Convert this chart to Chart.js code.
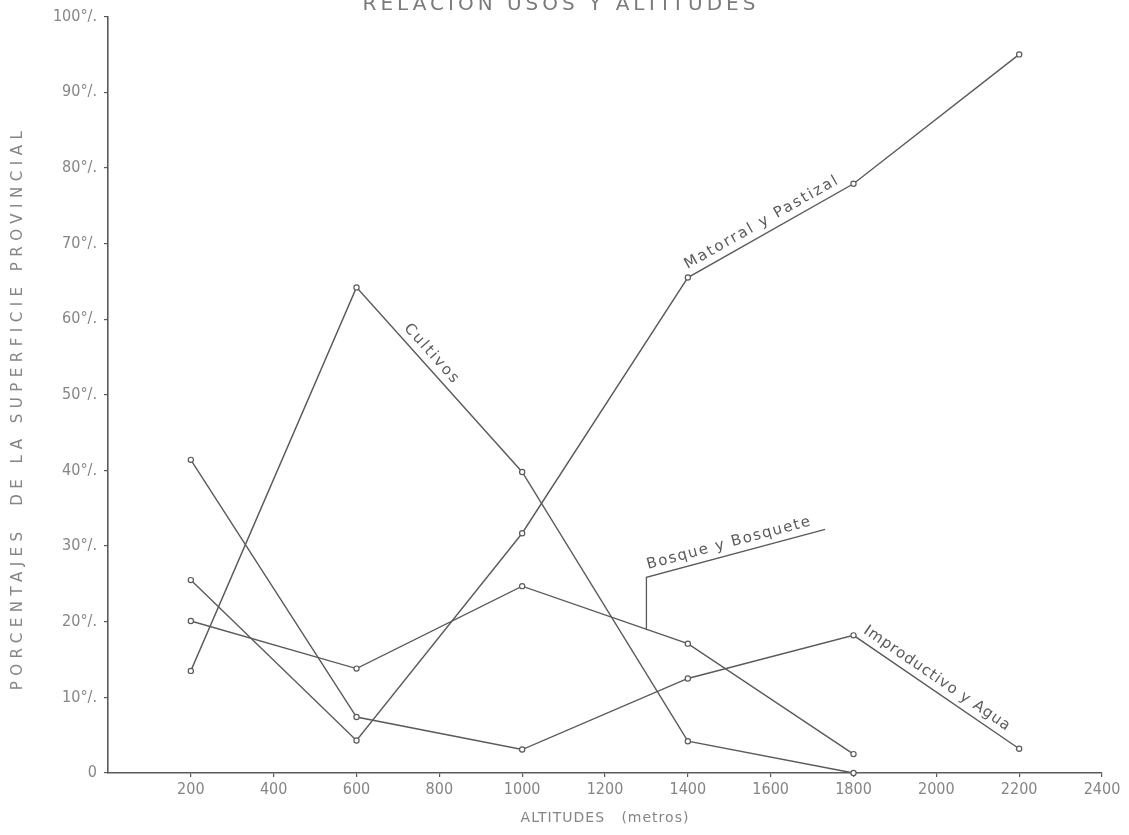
<!DOCTYPE html>
<html lang="es">
<head>
<meta charset="utf-8">
<title>Relación usos y altitudes</title>
<script src="https://cdn.jsdelivr.net/npm/chart.js@4.4.0/dist/chart.umd.min.js"></script>
<style>
  html, body { margin: 0; padding: 0; background: #fff; }
  #wrap { width: 1129px; height: 835px; position: relative; }
</style>
</head>
<body>
<div id="wrap"><canvas id="chart"></canvas></div>
<script>
// altitudes (metros) at which the land use was measured
const altitudes = [200, 600, 1000, 1400, 1800, 2200];

// % of the provincial surface
const cultivos     = [13.5, 64.2, 39.8, 4.2, 0, null];
const matorral     = [25.5, 4.3, 31.7, 65.5, 77.9, 95.0];
const bosque       = [20.1, 13.8, 24.7, 17.1, 2.5, null];
const improductivo = [41.4, 7.4, 3.1, 12.5, 18.2, 3.2];

const seriesNames = ['Cultivos', 'Matorral y Pastizal', 'Bosque y Bosquete', 'Improductivo y Agua'];

const xTickLabels = [200, 400, 600, 800, 1000, 1200, 1400, 1600, 1800, 2000, 2200, 2400];
const yTickLabels = [0, 10, 20, 30, 40, 50, 60, 70, 80, 90, 100];

const titleText = 'RELACIÓN USOS Y ALTITUDES';
const xTitle = 'ALTITUDES   (metros)';
const yTitle = 'PORCENTAJES  DE LA SUPERFICIE PROVINCIAL';

const INK = '#5a5a5a';
const PALE = '#858585';
const FONT = '"DejaVu Sans", sans-serif';
const NARROW = '"DejaVu Sans Condensed", "Liberation Sans Narrow", "DejaVu Sans", sans-serif';

const toPoints = (vals) => altitudes.map((a, i) => ({ x: a, y: vals[i] }));

const dataset = (label, vals) => ({
  label,
  data: toPoints(vals),
  borderColor: INK,
  borderWidth: 1.4,
  pointRadius: 2.6,
  pointBackgroundColor: '#fff',
  pointBorderColor: INK,
  pointBorderWidth: 1.2,
  tension: 0,
  clip: false
});

// text written along a segment of a series, the way the draughtsman labelled it
function textAlong(ctx, text, p0, p1, t, offset, spacing) {
  const ang = Math.atan2(p1.y - p0.y, p1.x - p0.x);
  const x = p0.x + (p1.x - p0.x) * t;
  const y = p0.y + (p1.y - p0.y) * t;
  ctx.save();
  ctx.translate(x, y);
  ctx.rotate(ang);
  ctx.letterSpacing = spacing;
  ctx.textAlign = 'left';
  ctx.textBaseline = 'bottom';
  ctx.fillText(text, 0, -offset);
  ctx.restore();
}

const handLabels = {
  id: 'handLabels',
  afterDraw(chart) {
    const ctx = chart.ctx;
    const pt = (ds, i) => chart.getDatasetMeta(ds).data[i];
    const area = chart.chartArea;

    ctx.save();
    ctx.fillStyle = INK;
    ctx.strokeStyle = INK;
    ctx.font = '15px ' + FONT;

    textAlong(ctx, seriesNames[0], pt(0, 1), pt(0, 2), 0.25, 4, '2px');
    textAlong(ctx, seriesNames[1], pt(1, 3), pt(1, 4), 0.02, 4, '2px');
    textAlong(ctx, seriesNames[3], pt(3, 4), pt(3, 5), 0.03, 4, '1px');

    // Bosque y Bosquete: leader line up from the series, then an underline
    const a = pt(2, 2), b = pt(2, 3);
    const t = 0.75;
    const ax = a.x + (b.x - a.x) * t;
    const ay = a.y + (b.y - a.y) * t;
    const top = { x: ax, y: ay - 52 };
    const ang = -15 * Math.PI / 180;
    const end = { x: top.x + 185 * Math.cos(ang), y: top.y + 185 * Math.sin(ang) };
    ctx.lineWidth = 1.3;
    ctx.beginPath();
    ctx.moveTo(ax, ay);
    ctx.lineTo(top.x, top.y);
    ctx.lineTo(end.x, end.y);
    ctx.stroke();
    textAlong(ctx, seriesNames[2], top, end, 0.02, 4, '1.5px');

    // axis titles
    ctx.fillStyle = PALE;
    ctx.font = '14px ' + FONT;
    ctx.letterSpacing = '1px';
    ctx.textAlign = 'center';
    ctx.textBaseline = 'middle';
    ctx.fillText(xTitle, (area.left + area.right) / 2, 818);

    ctx.save();
    ctx.translate(18, 408);
    ctx.rotate(-Math.PI / 2);
    ctx.font = '15px ' + FONT;
    ctx.letterSpacing = '5.5px';
    ctx.fillText(yTitle, 0, 0);
    ctx.restore();

    // title, clipped by the top edge of the sheet as in the original
    ctx.fillStyle = '#7a7a7a';
    ctx.font = '20px ' + FONT;
    ctx.letterSpacing = '4px';
    ctx.textBaseline = 'alphabetic';
    ctx.fillText(titleText, 561, 10);
    ctx.restore();
  }
};

new Chart(document.getElementById('chart'), {
  type: 'line',
  data: {
    datasets: [
      dataset(seriesNames[0], cultivos),
      dataset(seriesNames[1], matorral),
      dataset(seriesNames[2], bosque),
      dataset(seriesNames[3], improductivo)
    ]
  },
  options: {
    responsive: true,
    maintainAspectRatio: false,
    animation: false,
    layout: { padding: { top: 15, right: 27, left: 0, bottom: 0 } },
    plugins: {
      legend: { display: false },
      title: { display: false },
      tooltip: { enabled: true }
    },
    scales: {
      x: {
        type: 'linear',
        min: 0,
        max: 2400,
        afterBuildTicks: (scale) => { scale.ticks = xTickLabels.map(v => ({ value: v })); },
        afterFit: (scale) => { scale.height = 62; },
        ticks: {
          color: PALE,
          font: { family: NARROW, size: 16 },
          padding: 3,
          maxRotation: 0,
          autoSkip: false,
          callback: (v) => String(v)
        },
        grid: { drawOnChartArea: false, drawTicks: true, tickLength: 4, color: INK, lineWidth: 1.2 },
        border: { color: INK, width: 1.6 }
      },
      y: {
        min: 0,
        max: 100,
        afterBuildTicks: (scale) => { scale.ticks = yTickLabels.map(v => ({ value: v })); },
        afterFit: (scale) => { scale.width = 108; },
        ticks: {
          color: PALE,
          font: { family: NARROW, size: 16 },
          padding: 7,
          callback: (v) => v === 0 ? '0' : v + '°/.'
        },
        grid: { drawOnChartArea: false, drawTicks: true, tickLength: 4, color: INK, lineWidth: 1.2 },
        border: { color: INK, width: 1.6 }
      }
    }
  },
  plugins: [handLabels]
});
</script>
</body>
</html>
